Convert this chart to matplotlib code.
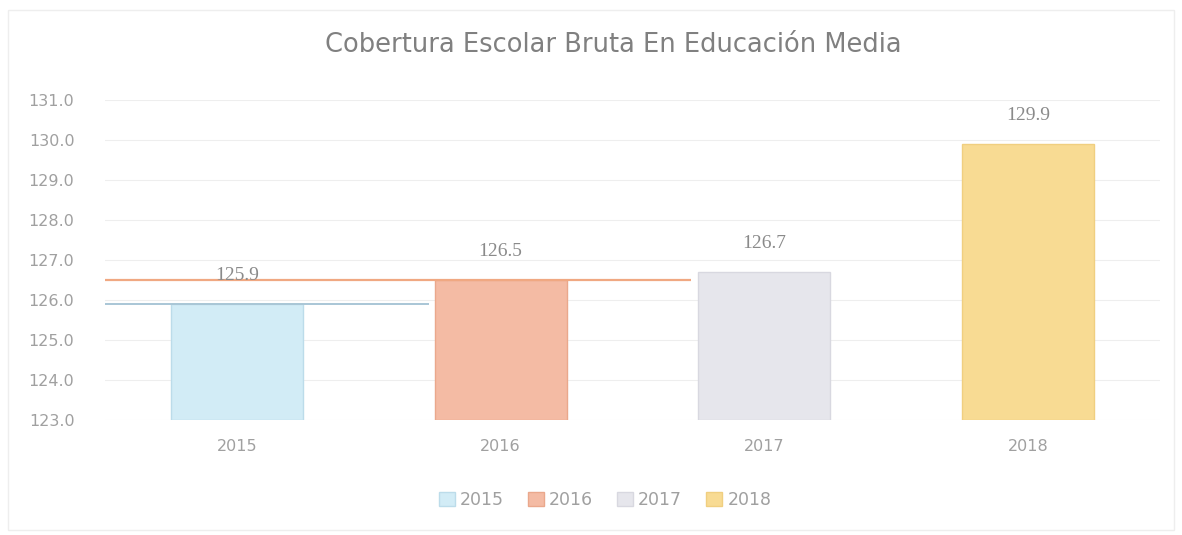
import matplotlib
matplotlib.use("Agg")
import matplotlib.pyplot as plt
from matplotlib.patches import Rectangle

years = ["2015", "2016", "2017", "2018"]
values = [125.9, 126.5, 126.7, 129.9]
y_ticks = [123.0, 124.0, 125.0, 126.0, 127.0, 128.0, 129.0, 130.0, 131.0]
title = "Cobertura Escolar Bruta En Educación Media"

colors = ["#d2ecf6", "#f4bba4", "#e6e6ec", "#f8db93"]
edges = ["#bcdcea", "#eaa88c", "#d8d8e0", "#f0cf80"]

fig = plt.figure(figsize=(11.82, 5.35), dpi=100)
ax = fig.add_axes([105 / 1182, 1 - 420 / 535, 1055 / 1182, 320 / 535])

x = list(range(len(years)))
bars = ax.bar(x, [v - y_ticks[0] for v in values], bottom=y_ticks[0], width=0.5,
              color=colors, edgecolor=edges, linewidth=1.0, zorder=2,
              label=years)

# faint reference lines seen in the scan at the first two bar tops
ax.hlines(values[0], -0.5, 0.73, color="#a9c6d6", linewidth=1.4, zorder=3)
ax.hlines(values[1], -0.5, 1.72, color="#f0a882", linewidth=1.6, zorder=3)

for xi, v in zip(x, values):
    ax.text(xi, v + 0.7, f"{v:.1f}", ha="center", va="center",
            fontsize=14, color="#8a8a8a", family="Liberation Serif", zorder=4)

ax.set_xlim(-0.5, 3.5)
ax.set_ylim(y_ticks[0], y_ticks[-1])
ax.set_yticks(y_ticks)
ax.set_yticklabels([f"{t:.1f}" for t in y_ticks])
ax.set_xticks(x)
ax.set_xticklabels(years)
ax.tick_params(axis="both", length=0, labelsize=11.5, labelcolor="#a0a0a0")
ax.tick_params(axis="x", pad=14)
ax.tick_params(axis="y", pad=22)
ax.grid(axis="y", color="#eeeeee", linewidth=0.8, zorder=0)
for s in ax.spines.values():
    s.set_visible(False)

fig.text(0.519, 1 - 45 / 535, title, ha="center", va="center",
         fontsize=18.5, color="#808080")

ax.legend(bars, years, loc="center", bbox_to_anchor=(0.474, (420 - 500) / 320),
          ncol=4, frameon=False, fontsize=12.5, labelcolor="#a0a0a0",
          handlelength=0.9, handleheight=0.9, handletextpad=0.3,
          columnspacing=1.4)

fig.patches.append(Rectangle((8 / 1182, 5 / 535), 1166 / 1182, 520 / 535,
                             transform=fig.transFigure, fill=False,
                             edgecolor="#eeeeee", linewidth=1))

fig.savefig("out.png", dpi=100, facecolor="white")
